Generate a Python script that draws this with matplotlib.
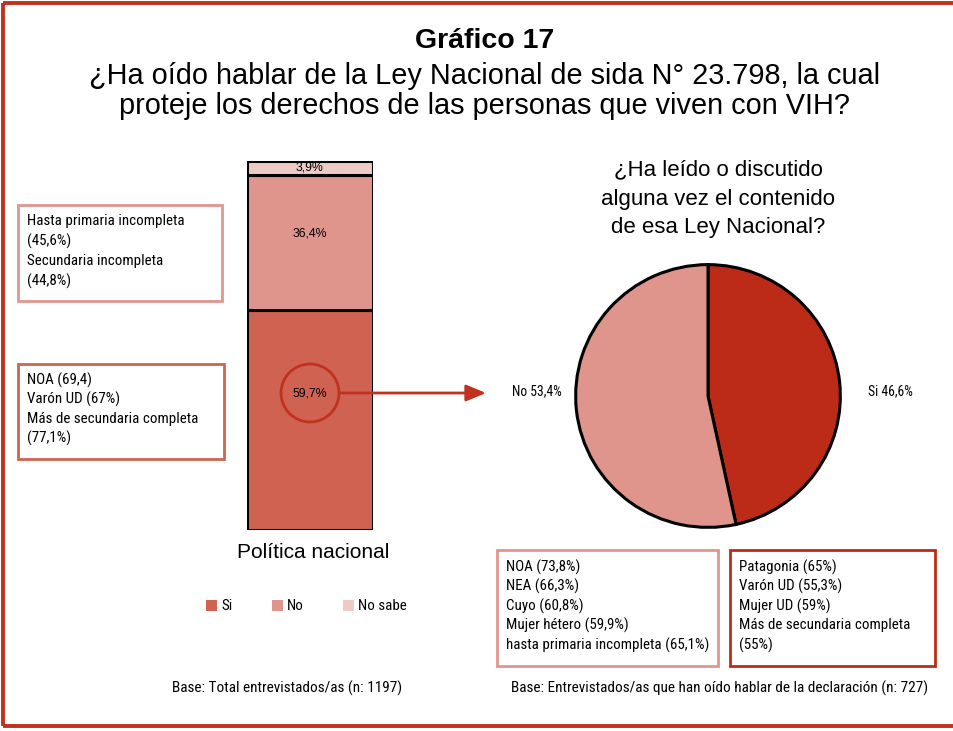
import matplotlib
matplotlib.use("Agg")
import matplotlib.pyplot as plt
from matplotlib.patches import Rectangle, Circle
from matplotlib import font_manager

# ---------------- data ----------------
title_main = "Gráfico 17"
title_sub = ["¿Ha oído hablar de la Ley Nacional de sida N° 23.798, la cual",
             "proteje los derechos de las personas que viven con VIH?"]
bar_category = "Política nacional"
bar_series = ["Si", "No", "No sabe"]
bar_values = [59.7, 36.4, 3.9]
bar_labels = ["59,7%", "36,4%", "3,9%"]

pie_title = ["¿Ha leído o discutido", "alguna vez el contenido", "de esa Ley Nacional?"]
pie_series = ["Si", "No"]
pie_values = [46.6, 53.4]
pie_labels = ["Si 46,6%", "No 53,4%"]

box_no_bar = ["Hasta primaria incompleta", "(45,6%)", "Secundaria incompleta", "(44,8%)"]
box_si_bar = ["NOA (69,4)", "Varón UD (67%)", "Más de secundaria completa", "(77,1%)"]
box_no_pie = ["NOA (73,8%)", "NEA (66,3%)", "Cuyo (60,8%)", "Mujer hétero (59,9%)",
              "hasta primaria incompleta (65,1%)"]
box_si_pie = ["Patagonia (65%)", "Varón UD (55,3%)", "Mujer UD (59%)",
              "Más de secundaria completa", "(55%)"]
base_left = "Base: Total entrevistados/as (n: 1197)"
base_right = "Base: Entrevistados/as que han oído hablar de la declaración (n: 727)"

# ---------------- styles ----------------
bar_colors = ["#D06252", "#DF958C", "#EECAC4"]
pie_colors = ["#BC2B17", "#DF958C"]
frame_red = "#C0321F"

main_font = "Liberation Sans"
plt.rcParams["font.family"] = [main_font, "DejaVu Sans"]

# pick a condensed font if one exists
narrow_props = None
for fam, stretch in [("Liberation Sans Narrow", "normal"), ("Roboto Condensed", "normal"),
                     ("DejaVu Sans", "condensed"), ("Roboto", "condensed"),
                     ("Open Sans", "condensed"), ("Noto Sans", "condensed")]:
    try:
        fp = font_manager.FontProperties(family=fam, stretch=stretch)
        path = font_manager.findfont(fp, fallback_to_default=False)
    except Exception:
        continue
    low = path.lower()
    if stretch == "normal" or "condensed" in low or "narrow" in low:
        narrow_props = dict(family=fam, fontstretch=stretch)
        break
if narrow_props is None:
    narrow_props = dict(family="Liberation Sans")
    small_scale = 0.86
else:
    small_scale = 1.0

W, H = 954, 731
fig = plt.figure(figsize=(W / 100, H / 100), dpi=100)

def px_axes(x0, y0, x1, y1, **kw):
    return fig.add_axes([x0 / W, 1 - y1 / H, (x1 - x0) / W, (y1 - y0) / H], **kw)

# ---------------- stacked bar ----------------
axb = px_axes(247, 161, 373, 530)
bottom = 0
for name, v, c in zip(bar_series, bar_values, bar_colors):
    axb.bar(0, v, width=1.0, bottom=bottom, color=c, edgecolor="black", linewidth=2.2, label=name)
    bottom += v
axb.set_xlim(-0.5, 0.5)
axb.set_ylim(0, 100)
axb.axis("off")

# ---------------- pie ----------------
axp = px_axes(573, 262, 843, 530)
axp.pie(pie_values, colors=pie_colors, startangle=90, counterclock=False,
        wedgeprops=dict(edgecolor="black", linewidth=2.2))
axp.set_xlim(-1.02, 1.02)
axp.set_ylim(-1.02, 1.02)
axp.set_aspect("auto")

# ---------------- overlay ----------------
ov = fig.add_axes([0, 0, 1, 1], zorder=5)
ov.set_xlim(0, W)
ov.set_ylim(H, 0)
ov.axis("off")
ov.patch.set_alpha(0)

# frame
ov.plot([3.5, 3.5], [2.5, 726], color=frame_red, lw=2.8, solid_capstyle="butt")
ov.plot([3.5, 954], [2.5, 2.5], color=frame_red, lw=2.8, solid_capstyle="butt")
ov.plot([3.5, 954], [726, 726], color=frame_red, lw=2.8, solid_capstyle="butt")

# titles
ov.text(485, 41, title_main, ha="center", va="center", fontsize=20.5, fontweight="bold")
for i, t in enumerate(title_sub):
    ov.text(485, 76 + i * 30, t, ha="center", va="center", fontsize=20.8)
for i, t in enumerate(pie_title):
    ov.text(718, 170 + i * 29, t, ha="center", va="center", fontsize=16)
ov.text(313, 553, bar_category, ha="center", va="center", fontsize=15)

fs_small = 10.8 * small_scale
fs_base = 11 * small_scale
fs_pie = 9.8 * small_scale
# bar value labels (regular sans)
ov.text(310, 168, bar_labels[2], ha="center", va="center", fontsize=8.8)
ov.text(310, 233, bar_labels[1], ha="center", va="center", fontsize=8.8)
ov.text(310, 393, bar_labels[0], ha="center", va="center", fontsize=8.8)
ov.add_patch(Circle((310, 393), 29, fill=False, edgecolor="#C0321F", lw=2))
ov.annotate("", xy=(486, 393), xytext=(339, 393),
            arrowprops=dict(arrowstyle="-|>,head_length=1.2,head_width=0.5",
                            color="#C0321F", lw=2, shrinkA=0, shrinkB=0))

# pie labels
ov.text(868, 391, pie_labels[0], ha="left", va="center", fontsize=fs_pie, **narrow_props)
ov.text(562, 391, pie_labels[1], ha="right", va="center", fontsize=fs_pie, **narrow_props)

# legend
leg_x = [206, 272, 343]
for x, name, c in zip(leg_x, bar_series, bar_colors):
    ov.add_patch(Rectangle((x, 600), 11, 11, facecolor=c, edgecolor="none"))
    ov.text(x + 15, 605.5, name, ha="left", va="center", fontsize=fs_small, **narrow_props)

# boxes
def box(x0, y0, x1, y1, color, lines, ty0, dy):
    ov.add_patch(Rectangle((x0, y0), x1 - x0, y1 - y0, fill=False, edgecolor=color, lw=2))
    for i, t in enumerate(lines):
        ov.text(x0 + 9, ty0 + i * dy, t, ha="left", va="center", fontsize=fs_small, **narrow_props)

box(18, 205, 222, 301, "#E0968D", box_no_bar, 221, 20)
box(18, 364, 224, 459, "#D06252", box_si_bar, 380, 19.5)
box(497, 550, 718, 666, "#E0968D", box_no_pie, 567, 19.5)
box(730, 550, 935, 666, "#BC2B17", box_si_pie, 567, 19.5)

ov.text(287, 688, base_left, ha="center", va="center", fontsize=fs_base, **narrow_props)
ov.text(720, 688, base_right, ha="center", va="center", fontsize=fs_base, **narrow_props)

fig.savefig("out.png", dpi=100)
